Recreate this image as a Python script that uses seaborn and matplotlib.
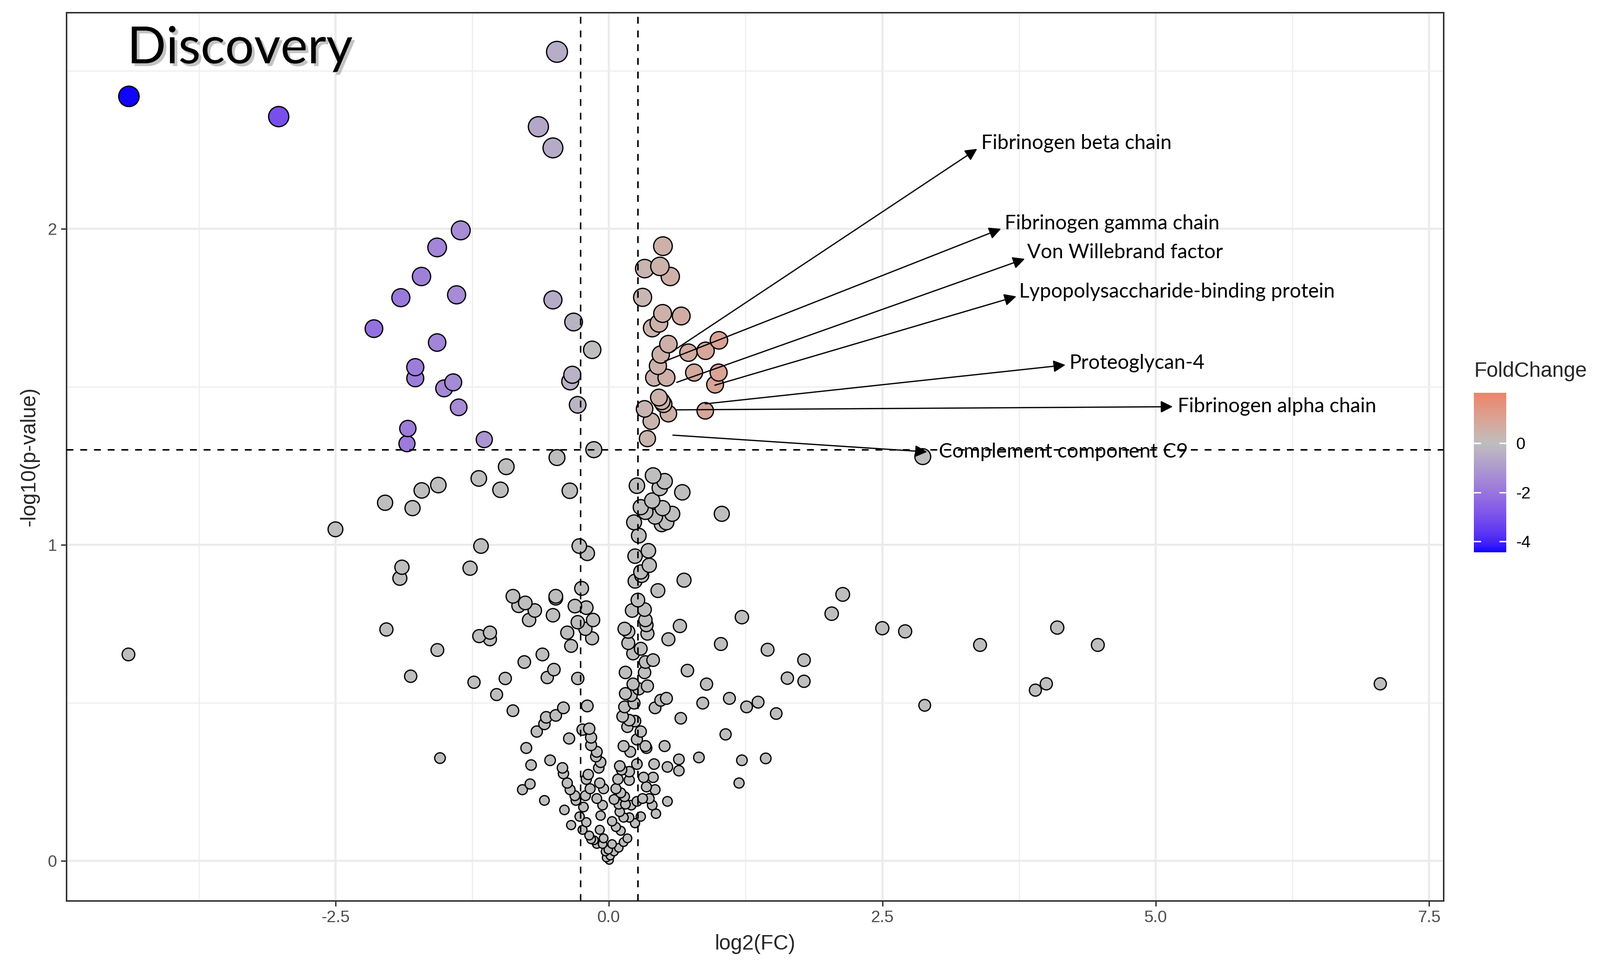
import numpy as np
import pandas as pd
import matplotlib
matplotlib.use("Agg")
import matplotlib.pyplot as plt
import matplotlib.patheffects as pe
from matplotlib.colors import ListedColormap, Normalize
from matplotlib.cm import ScalarMappable
import seaborn as sns

# ---------------- data (log2FC, -log10 p) ----------------
upper_left = [(-4.39, 2.419), (-3.02, 2.355), (-0.475, 2.560), (-0.645, 2.323), (-0.512, 2.256),
              (-1.355, 1.995), (-1.571, 1.941), (-1.714, 1.849), (-1.903, 1.782), (-1.393, 1.791),
              (-0.512, 1.775), (-0.323, 1.705), (-2.149, 1.684), (-1.571, 1.640), (-0.153, 1.617),
              (-1.771, 1.562), (-1.771, 1.527), (-0.335, 1.538), (-0.354, 1.517), (-1.507, 1.495),
              (-1.424, 1.514), (-1.374, 1.435), (-0.286, 1.443), (-1.839, 1.368), (-1.847, 1.320),
              (-1.140, 1.333), (-0.138, 1.301), (-0.475, 1.276), (-0.939, 1.247), (-1.190, 1.210)]
mid_left = [(-0.992, 1.174), (-0.358, 1.171), (-1.170, 0.996), (-0.271, 0.996), (-0.198, 0.973),
            (-1.560, 1.189), (-1.712, 1.172), (-2.047, 1.133), (-1.796, 1.116), (-2.501, 1.049),
            (-1.893, 0.929), (-1.912, 0.894), (-1.270, 0.926), (-2.035, 0.732), (-1.186, 0.711),
            (-4.394, 0.653), (-1.569, 0.667), (-1.813, 0.584), (-1.234, 0.565), (-1.545, 0.325)]
upper_right = [(0.494, 1.945), (0.466, 1.881), (0.327, 1.874), (0.561, 1.849), (0.308, 1.783),
               (0.491, 1.732), (0.661, 1.724), (0.457, 1.701), (0.396, 1.686), (0.544, 1.635),
               (0.474, 1.602), (0.448, 1.566), (0.413, 1.529), (0.526, 1.529), (0.727, 1.608),
               (0.884, 1.614), (1.006, 1.647), (0.779, 1.545), (1.003, 1.545), (0.971, 1.507),
               (0.457, 1.466), (0.483, 1.454), (0.500, 1.445), (0.326, 1.430), (0.544, 1.415),
               (0.387, 1.391), (0.352, 1.336), (0.881, 1.424)]
mid_right = [(0.404, 1.219), (0.509, 1.201), (0.465, 1.180), (0.256, 1.187), (0.671, 1.166),
             (0.396, 1.140), (0.291, 1.119), (0.334, 1.104), (0.491, 1.116), (0.579, 1.098),
             (0.422, 1.089), (0.526, 1.071), (0.483, 1.065), (0.230, 1.071), (0.273, 1.029),
             (1.032, 1.098), (0.361, 0.981), (0.239, 0.964), (0.369, 0.935), (0.291, 0.914)]
far_right = [(2.138, 0.843), (2.037, 0.782), (2.500, 0.736), (2.709, 0.726), (4.100, 0.738),
             (3.394, 0.683), (4.471, 0.683), (1.784, 0.635), (1.784, 0.568), (1.632, 0.578),
             (7.054, 0.560), (4.000, 0.560), (3.900, 0.540), (2.888, 0.492), (2.870, 1.279)]
core = [(0.239, 0.885), (0.300, 0.903), (0.687, 0.888), (0.448, 0.855), (-0.250, 0.862),
        (-0.878, 0.837), (-0.826, 0.807), (-0.765, 0.816), (-0.678, 0.792), (-0.730, 0.762),
        (-0.486, 0.837), (-0.486, 0.831), (-0.512, 0.777), (-0.311, 0.806), (-0.207, 0.801),
        (-0.145, 0.762), (-0.285, 0.755), (-0.215, 0.734), (-0.154, 0.704), (-0.381, 0.722),
        (-0.346, 0.680), (0.265, 0.825), (0.212, 0.792), (0.326, 0.795), (0.334, 0.762),
        (0.343, 0.746), (0.352, 0.719), (0.143, 0.734), (0.177, 0.725), (0.177, 0.689),
        (0.221, 0.656), (0.291, 0.671), (0.334, 0.629), (0.404, 0.635), (0.326, 0.596),
        (0.151, 0.596), (0.649, 0.743), (0.544, 0.701), (1.216, 0.771), (1.024, 0.686),
        (1.451, 0.668), (0.718, 0.602), (0.893, 0.559), (-1.088, 0.722), (-1.088, 0.701),
        (-0.948, 0.577), (-1.027, 0.526), (-0.774, 0.629), (-0.608, 0.653), (-0.503, 0.605),
        (-0.564, 0.580), (-0.285, 0.577), (-0.878, 0.475), (-0.416, 0.484), (-0.486, 0.460),
        (-0.573, 0.454), (-0.590, 0.433), (-0.660, 0.409), (-0.198, 0.490), (0.221, 0.559),
        (0.273, 0.544), (0.352, 0.553), (0.151, 0.529), (0.204, 0.523), (0.230, 0.499),
        (0.143, 0.487), (0.125, 0.457), (0.186, 0.445), (0.239, 0.442), (0.169, 0.424),
        (0.291, 0.409), (0.256, 0.384), (0.134, 0.363), (0.195, 0.345), (0.334, 0.363),
        (0.343, 0.357), (0.474, 0.508), (0.526, 0.514), (0.422, 0.484), (0.657, 0.451),
        (0.858, 0.499), (1.102, 0.514), (1.259, 0.487), (1.364, 0.502), (1.530, 0.466),
        (1.067, 0.400), (0.509, 0.363), (0.640, 0.321), (0.640, 0.285), (0.535, 0.297),
        (0.413, 0.306), (0.823, 0.327), (1.216, 0.318), (1.434, 0.324), (1.190, 0.246),
        (-0.241, 0.415), (-0.180, 0.418), (-0.163, 0.390), (-0.163, 0.366), (-0.111, 0.345),
        (-0.119, 0.330), (-0.076, 0.312), (-0.093, 0.294), (-0.364, 0.387), (-0.756, 0.357),
        (-0.712, 0.303), (-0.538, 0.318), (-0.425, 0.294), (-0.416, 0.276), (-0.381, 0.246),
        (-0.355, 0.225), (-0.311, 0.206), (-0.302, 0.191), (-0.721, 0.243), (-0.791, 0.225),
        (-0.590, 0.191), (-0.407, 0.161), (-0.346, 0.113), (-0.189, 0.273), (-0.207, 0.258),
        (-0.172, 0.228), (-0.215, 0.206), (-0.233, 0.170), (-0.268, 0.140), (-0.207, 0.122),
        (-0.241, 0.098), (-0.180, 0.080), (-0.137, 0.065), (-0.084, 0.098), (-0.049, 0.071),
        (-0.076, 0.143), (-0.058, 0.176), (-0.111, 0.197), (-0.084, 0.246), (-0.049, 0.228),
        (0.099, 0.300), (0.116, 0.288), (0.186, 0.282), (0.186, 0.255), (0.082, 0.258),
        (0.064, 0.228), (0.108, 0.215), (0.143, 0.203), (0.047, 0.194), (0.090, 0.179),
        (0.151, 0.179), (0.204, 0.176), (0.256, 0.188), (0.308, 0.197), (0.369, 0.197),
        (0.396, 0.176), (0.343, 0.234), (0.422, 0.225), (0.317, 0.264), (0.404, 0.264),
        (0.430, 0.149), (0.535, 0.188), (0.256, 0.306), (0.099, 0.155), (0.134, 0.137),
        (0.186, 0.137), (0.239, 0.119), (0.291, 0.140), (0.029, 0.125), (0.064, 0.107),
        (0.108, 0.095), (0.169, 0.071), (0.134, 0.059), (0.090, 0.041), (0.029, 0.053),
        (-0.006, 0.035), (-0.032, 0.029), (0.012, 0.016), (-0.023, 0.010), (0.003, 0.002),
        (-0.058, 0.053), (0.047, 0.029), (-0.111, 0.053), (-0.163, 0.068)]

FC_CUT = 0.263   # log2(1.2)
P_CUT = 1.301    # -log10(0.05)
FILL_MIN, FILL_MAX = -4.44, 2.05

# labelled proteins: name, arrow tail (x, y), arrow head (x, y), text anchor (x, y)
annotations = [
    ("Fibrinogen beta chain", (0.576, 1.611), (3.368, 2.253), (3.403, 2.271)),
    ("Fibrinogen gamma chain", (0.511, 1.581), (3.586, 2.000), (3.621, 2.017)),
    ("Von Willebrand factor", (0.620, 1.514), (3.804, 1.905), (3.826, 1.925)),
    ("Lypopolysaccharide-binding protein", (0.969, 1.505), (3.726, 1.786), (3.752, 1.800)),
    ("Proteoglycan-4", (0.881, 1.446), (4.175, 1.569), (4.210, 1.575)),
    ("Fibrinogen alpha chain", (0.620, 1.427), (5.156, 1.437), (5.200, 1.437)),
    ("Complement component C9", (0.585, 1.347), (2.910, 1.294), (3.019, 1.294)),
]

# ---------------- table ----------------
pts = upper_left + mid_left + upper_right + mid_right + far_right + core
df = pd.DataFrame(pts, columns=["log2FC", "neglog10p"])
sig = (df["neglog10p"] > P_CUT) & (df["log2FC"].abs() > FC_CUT)
df["FoldChange"] = np.where(sig, df["log2FC"], 0.0)
df = df.sort_values("neglog10p").reset_index(drop=True)


# ---------------- ggplot-like gradient2 (Lab interpolation) ----------------
def _srgb_to_lab(rgb):
    rgb = np.asarray(rgb, float)
    c = np.where(rgb <= 0.04045, rgb / 12.92, ((rgb + 0.055) / 1.055) ** 2.4)
    M = np.array([[0.4124, 0.3576, 0.1805], [0.2126, 0.7152, 0.0722], [0.0193, 0.1192, 0.9505]])
    xyz = M @ c / np.array([0.95047, 1.0, 1.08883])
    f = np.where(xyz > 0.008856, np.cbrt(xyz), 7.787 * xyz + 16 / 116)
    return np.array([116 * f[1] - 16, 500 * (f[0] - f[1]), 200 * (f[1] - f[2])])


def _lab_to_srgb(lab):
    L, a, b = lab
    fy = (L + 16) / 116
    fx = fy + a / 500
    fz = fy - b / 200
    f = np.array([fx, fy, fz])
    xyz = np.where(f ** 3 > 0.008856, f ** 3, (f - 16 / 116) / 7.787) * np.array([0.95047, 1.0, 1.08883])
    Minv = np.array([[3.2406, -1.5372, -0.4986], [-0.9689, 1.8758, 0.0415], [0.0557, -0.2040, 1.0570]])
    c = Minv @ xyz
    c = np.clip(c, 0, 1)
    return np.where(c <= 0.0031308, 12.92 * c, 1.055 * c ** (1 / 2.4) - 0.055)


low, mid, high = _srgb_to_lab([0, 0, 1]), _srgb_to_lab([0.745, 0.745, 0.745]), _srgb_to_lab([1, 0, 0])
cols = []
for t in np.linspace(0, 1, 512):
    if t < 0.5:
        lab = low + (mid - low) * (t / 0.5)
    else:
        lab = mid + (high - mid) * ((t - 0.5) / 0.5)
    cols.append(_lab_to_srgb(lab))
cmap = ListedColormap(np.clip(cols, 0, 1))
lim = max(abs(FILL_MIN), abs(FILL_MAX))
norm = Normalize(-lim, lim)

# ---------------- figure ----------------
sns.set_style("white")
plt.rcParams["font.family"] = ["Liberation Sans", "DejaVu Sans"]
plt.rcParams["axes.unicode_minus"] = False

fig = plt.figure(figsize=(16.045, 9.71), dpi=200)
ax = fig.add_axes([0.0414, 0.0695, 0.8607, 0.9176])

sns.scatterplot(data=df, x="log2FC", y="neglog10p", hue="FoldChange", palette=cmap,
                hue_norm=norm, size="neglog10p", sizes=(34, 228), size_norm=(0, 2.56),
                edgecolor="black", linewidth=0.9, legend=False, ax=ax, zorder=3)

dash = (0, (4.5, 4.5))
ax.axhline(P_CUT, color="black", lw=1.1, ls=dash, zorder=4)
ax.axvline(-FC_CUT, color="black", lw=1.1, ls=dash, zorder=4)
ax.axvline(FC_CUT, color="black", lw=1.1, ls=dash, zorder=4)

ax.set_xlim(-4.963, 7.631)
ax.set_ylim(-0.1264, 2.6845)
xt = [-2.5, 0.0, 2.5, 5.0, 7.5]
ax.set_xticks(xt)
ax.set_xticklabels([f"{v:.1f}" for v in xt])
ax.set_yticks([0, 1, 2])
ax.set_xticks([-3.75, -1.25, 1.25, 3.75, 6.25], minor=True)
ax.set_yticks([0.5, 1.5, 2.5], minor=True)
ax.grid(which="major", color="#EBEBEB", lw=1.5, zorder=0)
ax.grid(which="minor", color="#EFEFEF", lw=0.9, zorder=0)
ax.set_axisbelow(True)
ax.tick_params(which="major", length=3.8, width=1.0, color="#333333",
               labelsize=12, labelcolor="#4D4D4D", pad=3, bottom=True, left=True)
ax.tick_params(which="minor", length=0)
for s in ax.spines.values():
    s.set_color("#333333")
    s.set_linewidth(1.1)
ax.set_xlabel("log2(FC)", fontsize=15, labelpad=6)
ax.set_ylabel("-log10(p-value)", fontsize=15, labelpad=6)

# annotations
for name, tail, head, txt in annotations:
    ax.annotate("", xy=head, xytext=tail,
                arrowprops=dict(arrowstyle="-|>", color="black", lw=0.9,
                                mutation_scale=18, shrinkA=0, shrinkB=0), zorder=5)
    ax.text(txt[0], txt[1], name, fontsize=14.5, family="Lato", color="black",
            ha="left", va="center", zorder=5)

ax.text(0.0442, 0.9428, "Discovery", transform=ax.transAxes, fontsize=37, family="Lato",
        color="black", va="baseline", ha="left", zorder=6,
        path_effects=[pe.SimplePatchShadow(offset=(2.0, -2.0), shadow_rgbFace="#888888", alpha=0.5),
                      pe.Normal()])

# colour bar legend
cax = fig.add_axes([0.9212, 0.4295, 0.0203, 0.1647])
sm = ScalarMappable(norm=norm, cmap=cmap)
cb = fig.colorbar(sm, cax=cax, boundaries=np.linspace(FILL_MIN, FILL_MAX, 300), ticks=[0, -2, -4])
cb.outline.set_visible(False)
cb.ax.set_yticklabels(["0", "-2", "-4"])
cax.tick_params(length=0, labelsize=12, pad=7, labelcolor="black")
for v in [0, -2, -4]:
    cax.plot([0, 0.2], [v, v], color="white", lw=1.0)
    cax.plot([0.8, 1.0], [v, v], color="white", lw=1.0)
fig.text(0.9215, 0.6164, "FoldChange", fontsize=15, va="center", ha="left")

fig.savefig("out.png", dpi=200)
